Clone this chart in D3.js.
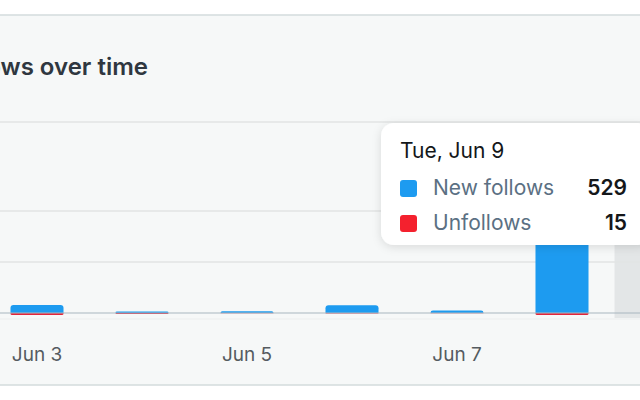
<!DOCTYPE html>
<html>
<head>
<meta charset="utf-8">
<script src="https://cdn.jsdelivr.net/npm/d3@7"></script>
<style>
  html, body { margin: 0; padding: 0; background: #fff; }
  svg { display: block; font-family: Inter, "Noto Sans", sans-serif; }
</style>
</head>
<body>
<svg id="chart"></svg>
<script>
// Config
const width = 640;
const height = 400;

// Data
const days = ["Jun 3", "Jun 4", "Jun 5", "Jun 6", "Jun 7", "Jun 8", "Jun 9"];
const dayNames = ["Wed", "Thu", "Fri", "Sat", "Sun", "Mon", "Tue"];
const newFollows = [39, 7, 9, 38, 12, 460, 529];
const unfollows = [10, 5, 1, 2, 1, 10, 15];
const tickLabels = ["Jun 3", "Jun 5", "Jun 7"];
const gridValues = [250, 500];
const hovered = "Jun 9";

const svg = d3.select("#chart")
  .attr("width", width)
  .attr("height", height);

// card
svg.append("rect")
  .attr("x", -2).attr("y", 15)
  .attr("width", width + 4).attr("height", 370)
  .attr("fill", "#f6f8f8")
  .attr("stroke", "#d3dcdd")
  .attr("stroke-width", 1.5);

// titulo (cortado a la izquierda)
svg.append("text")
  .attr("x", 148).attr("y", 75)
  .attr("text-anchor", "end")
  .attr("font-size", 24)
  .attr("font-weight", 600)
  .attr("fill", "#2f3740")
  .text("Follows over time");

// separador
svg.append("line")
  .attr("x1", 0).attr("x2", width)
  .attr("y1", 122).attr("y2", 122)
  .attr("stroke", "#e2e5e5").attr("stroke-width", 1.5);

// Escalas
const x = d3.scaleBand()
  .domain(days)
  .range([-15.5, 719.5])
  .paddingInner(0.495)
  .paddingOuter(0.2475);

const y = d3.scaleLinear()
  .domain([0, 500])
  .range([313, 211]);

// hover band
svg.append("rect")
  .attr("x", x(hovered) - x.step() * x.paddingInner() / 2)
  .attr("y", 123)
  .attr("width", x.step())
  .attr("height", 318 - 123)
  .attr("fill", "#e3e6e7");

// grid
svg.selectAll(".grid")
  .data(gridValues)
  .join("line")
  .attr("x1", 0).attr("x2", width)
  .attr("y1", d => y(d)).attr("y2", d => y(d))
  .attr("stroke", "#e2e5e5").attr("stroke-width", 1.5);

svg.append("line")
  .attr("x1", 0).attr("x2", width)
  .attr("y1", 319).attr("y2", 319)
  .attr("stroke", "#eceeee").attr("stroke-width", 1);

const bw = x.bandwidth();
const r = 3;

// barras: nuevas (arriba) con esquinas superiores redondeadas
function topRounded(x0, y0, w, h, rr) {
  rr = Math.min(rr, h, w / 2);
  return `M${x0},${y0 + h}V${y0 + rr}Q${x0},${y0} ${x0 + rr},${y0}` +
    `H${x0 + w - rr}Q${x0 + w},${y0} ${x0 + w},${y0 + rr}V${y0 + h}Z`;
}
function bottomRounded(x0, y0, w, h, rr) {
  rr = Math.min(rr, h, w / 2);
  return `M${x0},${y0}V${y0 + h - rr}Q${x0},${y0 + h} ${x0 + rr},${y0 + h}` +
    `H${x0 + w - rr}Q${x0 + w},${y0 + h} ${x0 + w},${y0 + h - rr}V${y0}Z`;
}

svg.selectAll(".unf")
  .data(days)
  .join("path")
  .attr("d", (d, i) => {
    const h = y(0) - y(unfollows[i]);
    return bottomRounded(x(d), y(0), bw, h, 1.5);
  })
  .attr("fill", "#e0243a");

svg.selectAll(".new")
  .data(days)
  .join("path")
  .attr("d", (d, i) => {
    const h = y(0) - y(newFollows[i]);
    return topRounded(x(d), y(newFollows[i]), bw, h, r);
  })
  .attr("fill", "#1d9bf0");

// baseline
svg.append("line")
  .attr("x1", 0).attr("x2", width)
  .attr("y1", y(0)).attr("y2", y(0))
  .attr("stroke", "#a8b6bf").attr("stroke-width", 1);

// eje x
svg.selectAll(".tick")
  .data(tickLabels)
  .join("text")
  .attr("x", d => x(d) + bw / 2)
  .attr("y", 361)
  .attr("text-anchor", "middle")
  .attr("font-size", 19)
  .attr("fill", "#555b60")
  .text(d => d);

// tooltip
const hi = days.indexOf(hovered);
const tip = svg.append("g").attr("transform", "translate(381,123)");
const defs = svg.append("defs");
const f = defs.append("filter").attr("id", "sh")
  .attr("x", "-20%").attr("y", "-20%").attr("width", "140%").attr("height", "150%");
f.append("feDropShadow").attr("dx", 0).attr("dy", 2).attr("stdDeviation", 5)
  .attr("flood-color", "#000").attr("flood-opacity", 0.12);

tip.append("rect")
  .attr("width", 270).attr("height", 122)
  .attr("rx", 13)
  .attr("fill", "#fff")
  .attr("filter", "url(#sh)");

tip.append("text")
  .attr("x", 19).attr("y", 35)
  .attr("font-size", 21)
  .attr("fill", "#14171a")
  .text(`${dayNames[hi]}, ${hovered}`);

const rows = [
  { label: "New follows", value: newFollows[hi], color: "#1d9bf0" },
  { label: "Unfollows", value: unfollows[hi], color: "#f4212e" }
];
rows.forEach((row, i) => {
  const yy = 72 + i * 35;
  tip.append("rect")
    .attr("x", 19).attr("y", yy - 15)
    .attr("width", 17).attr("height", 17)
    .attr("rx", 3)
    .attr("fill", row.color);
  tip.append("text")
    .attr("x", 52).attr("y", yy)
    .attr("font-size", 21)
    .attr("fill", "#5b7083")
    .text(row.label);
  tip.append("text")
    .attr("x", 246).attr("y", yy)
    .attr("text-anchor", "end")
    .attr("font-size", 21)
    .attr("font-weight", 600)
    .attr("fill", "#14171a")
    .text(row.value);
});
</script>
</body>
</html>
